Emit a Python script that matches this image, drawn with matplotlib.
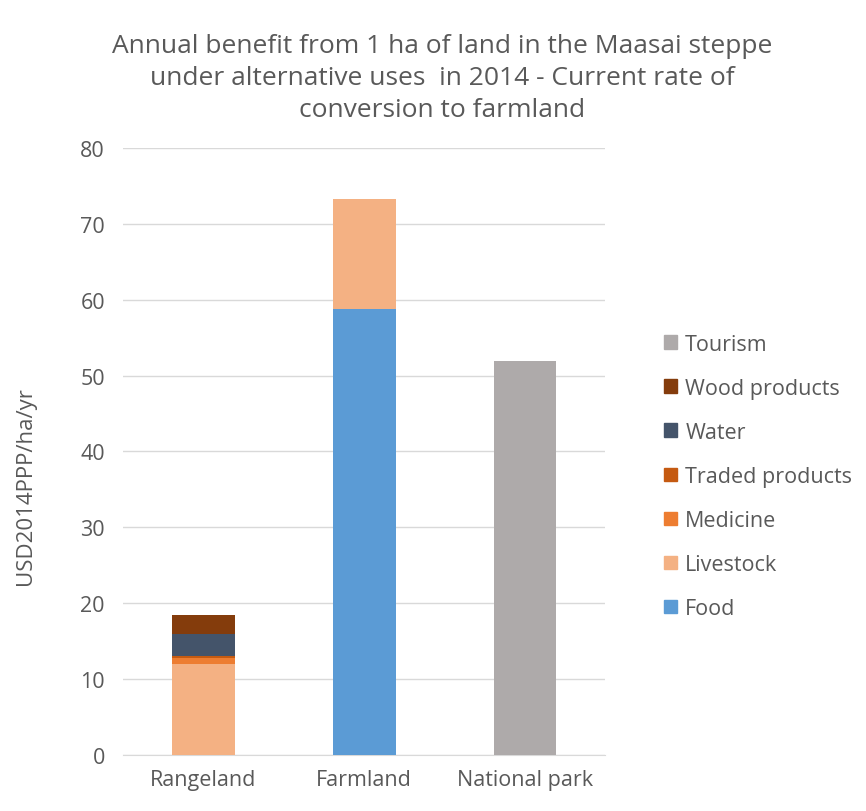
import numpy as np
import matplotlib
matplotlib.use("Agg")
from matplotlib import pyplot as plt
from matplotlib.patches import Patch

plt.rcParams['font.family'] = ['Open Sans', 'DejaVu Sans']

categories = ['Rangeland', 'Farmland', 'National park']
series_names = ['Food', 'Livestock', 'Medicine', 'Traded products', 'Water', 'Wood products', 'Tourism']
food = [0, 58.8, 0]
livestock = [12.0, 14.5, 0]
medicine = [0.75, 0, 0]
traded = [0.3, 0, 0]
water = [2.9, 0, 0]
wood = [2.5, 0, 0]
tourism = [0, 0, 51.9]
series_values = [food, livestock, medicine, traded, water, wood, tourism]
colors = ['#5B9BD5', '#F4B183', '#ED7D31', '#C55A11', '#44546A', '#843C0C', '#AEAAAA']
yticks = [0, 10, 20, 30, 40, 50, 60, 70, 80]

txt = '#595959'
fig = plt.figure(figsize=(8.66, 8.12), dpi=100)
ax = fig.add_axes([0.142, 0.069, 0.557, 0.7475])

x = np.arange(len(categories))
bottom = np.zeros(len(categories))
for name, vals, c in zip(series_names, series_values, colors):
    vals = np.array(vals)
    ax.bar(x, vals, 0.39, bottom=bottom, color=c, label=name, zorder=3)
    bottom += vals

ax.set_ylim(0, 80)
ax.set_xlim(-0.5, 2.5)
ax.set_yticks(yticks)
ax.set_xticks(x)
ax.set_xticklabels(categories)
ax.grid(axis='y', color='#D9D9D9', linewidth=1, zorder=0)
for s in ['top', 'right', 'left']:
    ax.spines[s].set_visible(False)
ax.spines['bottom'].set_color('#D9D9D9')
ax.tick_params(axis='both', length=0, colors=txt, labelsize=15.5)
ax.tick_params(axis='y', pad=13)
ax.tick_params(axis='x', pad=10)
ax.set_ylabel('USD2014PPP/ha/yr', color=txt, fontsize=16)
ax.yaxis.set_label_coords(-0.18, 0.445)

fig.text(0.511, 0.958, 'Annual benefit from 1 ha of land in the Maasai steppe\nunder alternative uses  in 2014 - Current rate of\nconversion to farmland',
         ha='center', va='top', color=txt, fontsize=19, linespacing=1.36)

handles = [Patch(color=c) for c in colors][::-1]
labels = series_names[::-1]
fig.legend(handles, labels, loc='center left', bbox_to_anchor=(0.744, 0.412),
           frameon=False, fontsize=15.5, labelcolor=txt, handlelength=0.6,
           handleheight=0.6, handletextpad=0.4, labelspacing=1.07)

fig.savefig('out.png', dpi=100)
